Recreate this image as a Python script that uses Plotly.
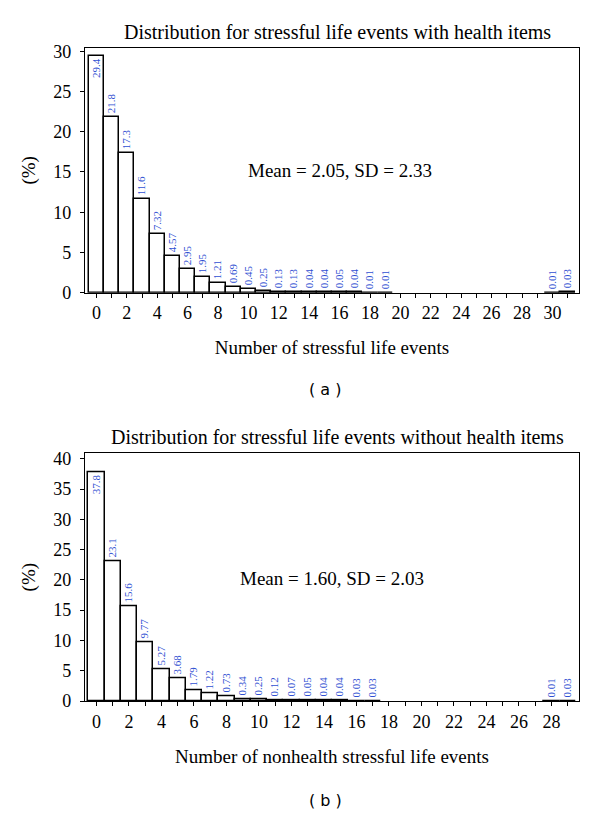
import plotly.graph_objects as go

# ---- data ----
cats_a = list(range(0, 20)) + [30, 31]
vals_a = [29.4, 21.8, 17.3, 11.6, 7.32, 4.57, 2.95, 1.95, 1.21, 0.69,
          0.45, 0.25, 0.13, 0.13, 0.04, 0.04, 0.05, 0.04, 0.01, 0.01,
          0.01, 0.03]
cats_b = list(range(0, 18)) + [28, 29]
vals_b = [37.8, 23.1, 15.6, 9.77, 5.27, 3.68, 1.79, 1.22, 0.73, 0.34,
          0.25, 0.12, 0.07, 0.05, 0.04, 0.04, 0.03, 0.03, 0.01, 0.03]
title_a = "Distribution for stressful life events with health items"
title_b = "Distribution for stressful life events without health items"
xlab_a = "Number of stressful life events"
xlab_b = "Number of nonhealth stressful life events"
stats_a = "Mean = 2.05, SD = 2.33"
stats_b = "Mean = 1.60, SD = 2.03"

SERIF = "Liberation Serif"
LBL = "#2f4fd2"

def bar(cats, vals, xa, ya):
    pos = ["inside" if i == 0 else "outside" for i in range(len(vals))]
    return go.Bar(
        x=cats, y=vals, xaxis=xa, yaxis=ya, width=1,
        marker=dict(color="white", line=dict(color="black", width=1.5)),
        text=[str(v) for v in vals], textposition=pos, textangle=-90,
        insidetextanchor="end", constraintext="none", cliponaxis=False,
        textfont=dict(family=SERIF, size=11, color=LBL),
        showlegend=False, hoverinfo="x+y",
    )

fig = go.Figure()
fig.add_trace(bar(cats_a, vals_a, "x", "y"))
fig.add_trace(bar(cats_b, vals_b, "x2", "y2"))

# page body has an 8px margin; map reference pixel coords onto the figure
OFF = 8
W, H = 600 - 2 * OFF, 820 - 2 * OFF
def px(v):
    return (v - OFF) / W
def py(v):
    return 1 - (v - OFF) / H

axcommon = dict(showline=True, linecolor="black", linewidth=1.3, mirror=True,
                ticks="outside", ticklen=4, tickcolor="black", tickwidth=1.3,
                showgrid=False, zeroline=False,
                tickfont=dict(family=SERIF, size=18, color="black"),
                title_font=dict(family=SERIF, size=19, color="black"))
minor = dict(dtick=1, tick0=0, ticks="outside", ticklen=4, tickcolor="black", tickwidth=1.3)

fig.update_layout(
    width=W, height=H, margin=dict(l=0, r=0, t=0, b=0, autoexpand=False),
    plot_bgcolor="white", paper_bgcolor="white", bargap=0,
    xaxis=dict(domain=[px(85), px(579)], range=[-0.75, 31.75], dtick=2, tick0=0,
               minor=minor, anchor="y", title=dict(text=xlab_a, standoff=18), **axcommon),
    yaxis=dict(domain=[py(292.7), py(48)], range=[0, 30.4], dtick=5, ticklabelstandoff=5,
               anchor="x", title=dict(text="(%)", standoff=12), **axcommon),
    xaxis2=dict(domain=[px(85), px(579)], range=[-0.7, 29.7], dtick=2, tick0=0,
                minor=minor, anchor="y2", title=dict(text=xlab_b, standoff=18), **axcommon),
    yaxis2=dict(domain=[py(701), py(453.3)], range=[0, 40.9], dtick=5, ticklabelstandoff=5,
                anchor="x2", title=dict(text="(%)", standoff=12), **axcommon),
)

def note(text, xref, yref, x, y, fam=SERIF, size=19):
    return dict(text=text, xref=xref, yref=yref, x=x, y=y, xanchor="center", yanchor="middle",
                showarrow=False, font=dict(family=fam, size=size, color="black"))

ann = [
    note(title_a, "paper", "paper", px(337), py(32), size=20),
    note(title_b, "paper", "paper", px(337), py(437), size=20),
    note(stats_a, "x", "y", 16, 15.2),
    note(stats_b, "x2", "y2", 14.5, 20.3),
    note("( a )", "paper", "paper", px(325), py(389), fam="DejaVu Sans", size=16),
    note("( b )", "paper", "paper", px(325), py(800), fam="DejaVu Sans", size=16),
]
fig.update_layout(annotations=ann)

fig.write_html("out.html")
